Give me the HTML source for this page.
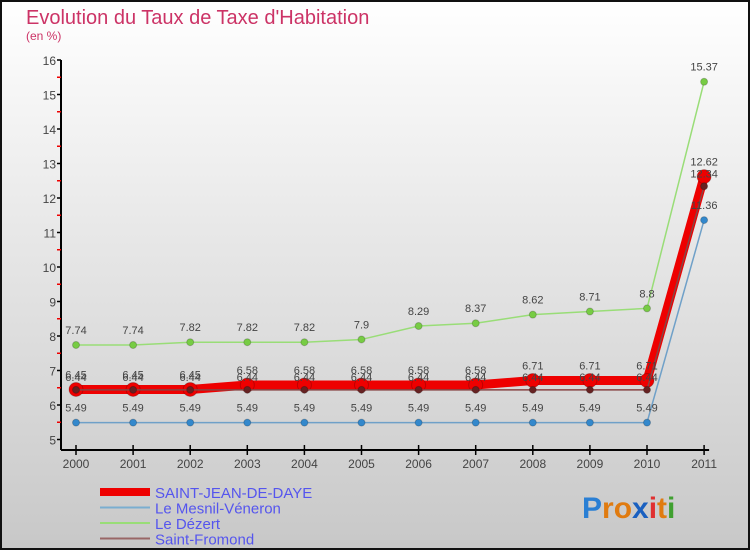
<!DOCTYPE html>
<html><head><meta charset="utf-8"><style>
html,body{margin:0;padding:0}
body{width:750px;height:550px;overflow:hidden;font-family:"Liberation Sans",sans-serif}
</style></head><body>
<svg id="chart" width="750" height="550" xmlns="http://www.w3.org/2000/svg">
<defs><linearGradient id="bg" x1="0" y1="0" x2="0" y2="1"><stop offset="0" stop-color="#ffffff"/><stop offset="1" stop-color="#c8c8c8"/></linearGradient></defs>
<rect x="1" y="1" width="748" height="548" fill="url(#bg)" stroke="#111" stroke-width="2"/>
<text x="26" y="24" font-size="20" fill="#cc3366">Evolution du Taux de Taxe d'Habitation</text>
<text x="26" y="40" font-size="12" fill="#cc3366">(en %)</text>
<g id="axes"></g>
<g id="series"></g>
<g id="legend"></g>
<text x="582" y="518" font-size="30" font-weight="bold" fill="#2a7fd4">P<tspan fill="#e07b10">ro</tspan><tspan fill="#1a60c0">x</tspan><tspan fill="#e03030">i</tspan><tspan fill="#e07b10">t</tspan><tspan fill="#40a030">i</tspan></text>
</svg>
<script>
const years=["2000","2001","2002","2003","2004","2005","2006","2007","2008","2009","2010","2011"];
const yTicks=[5,6,7,8,9,10,11,12,13,14,15,16];
const saintJean=[6.45,6.45,6.45,6.58,6.58,6.58,6.58,6.58,6.71,6.71,6.71,12.62];
const mesnil=[5.49,5.49,5.49,5.49,5.49,5.49,5.49,5.49,5.49,5.49,5.49,11.36];
const dezert=[7.74,7.74,7.82,7.82,7.82,7.9,8.29,8.37,8.62,8.71,8.8,15.37];
const fromond=[6.44,6.44,6.44,6.44,6.44,6.44,6.44,6.44,6.44,6.44,6.44,12.34];
const names=["SAINT-JEAN-DE-DAYE","Le Mesnil-Véneron","Le Dézert","Saint-Fromond"];
const NS="http://www.w3.org/2000/svg";
const x=i=>76+i*57.1;
const y=v=>439.5-(v-5)*34.5;
function mk(tag,attrs,parent,txt){const e=document.createElementNS(NS,tag);for(const k in attrs)e.setAttribute(k,attrs[k]);if(txt!==undefined)e.textContent=txt;parent.appendChild(e);return e;}
const axes=document.getElementById('axes');
let e=mk('line',{x1:61,y1:y(16),x2:61,y2:450,stroke:'#000','stroke-width':2},axes);


e=mk('line',{x1:61,y1:450,x2:x(11)+5,y2:450,stroke:'#000','stroke-width':2},axes);


yTicks.forEach(t=>{
  mk('line',{x1:57,y1:y(t),x2:61,y2:y(t),stroke:'#000','stroke-width':1.5},axes);
  if(t<16)mk('line',{x1:57,y1:y(t+0.5),x2:61,y2:y(t+0.5),stroke:'#e00','stroke-width':1.5},axes);
  const l=mk('text',{x:56,y:y(t)+5,'font-size':12,fill:'#444','text-anchor':'end'},axes,String(t));
  
  
});
years.forEach((yr,i)=>{
  mk('line',{x1:x(i),y1:445,x2:x(i),y2:455,stroke:'#000','stroke-width':1.5},axes);
  const l=mk('text',{x:x(i),y:468,'font-size':12,fill:'#444','text-anchor':'middle'},axes,yr);
  
  
});
const series=document.getElementById('series');
const cfg=[
 {d:mesnil,c:'#6fa0c8',w:1.5,dot:'#3388cc',r:3.5,n:'mesnil'},
 {d:dezert,c:'#99dd77',w:1.5,dot:'#77cc44',r:3.5,n:'dezert'},
 {d:saintJean,c:'#ee0000',w:9,dot:'#ee0000',r:7,n:'saint-jean'},
 {d:fromond,c:'#884444',w:1.5,dot:'#662222',r:3.5,n:'fromond'}
];
cfg.forEach(s=>{
  const g=mk('g',{},series);
  
  
  mk('polyline',{points:s.d.map((v,i)=>x(i)+','+y(v)).join(' '),fill:'none',stroke:s.c,'stroke-width':s.w,'stroke-linejoin':'round'},g);
  s.d.forEach((v,i)=>{
    const p=mk('circle',{cx:x(i),cy:y(v),r:s.r,fill:s.dot,stroke:'rgba(0,0,0,0.2)','stroke-width':1},g);
    
    
  });
});
cfg.forEach(s=>{
  s.d.forEach((v,i)=>{
    const off=s.n==='fromond'?-9:-11;
    const t=mk('text',{x:x(i),y:y(v)+off,'font-size':11,fill:'#444','text-anchor':'middle'},series,String(v));
    
    
  });
});
const legend=document.getElementById('legend');
const lc=['#ee0000','#7aaed0','#99dd77','#996666'];
const lw=[8,2,2,2];
names.forEach((nm,i)=>{
  const ly=492+i*15.5;
  const g=mk('g',{},legend);
  
  
  mk('line',{x1:100,y1:ly,x2:150,y2:ly,stroke:lc[i],'stroke-width':lw[i]},g);
  mk('text',{x:155,y:ly+6,'font-size':15,fill:'#5555ee'},g,nm);
});
</script>
</body></html>
